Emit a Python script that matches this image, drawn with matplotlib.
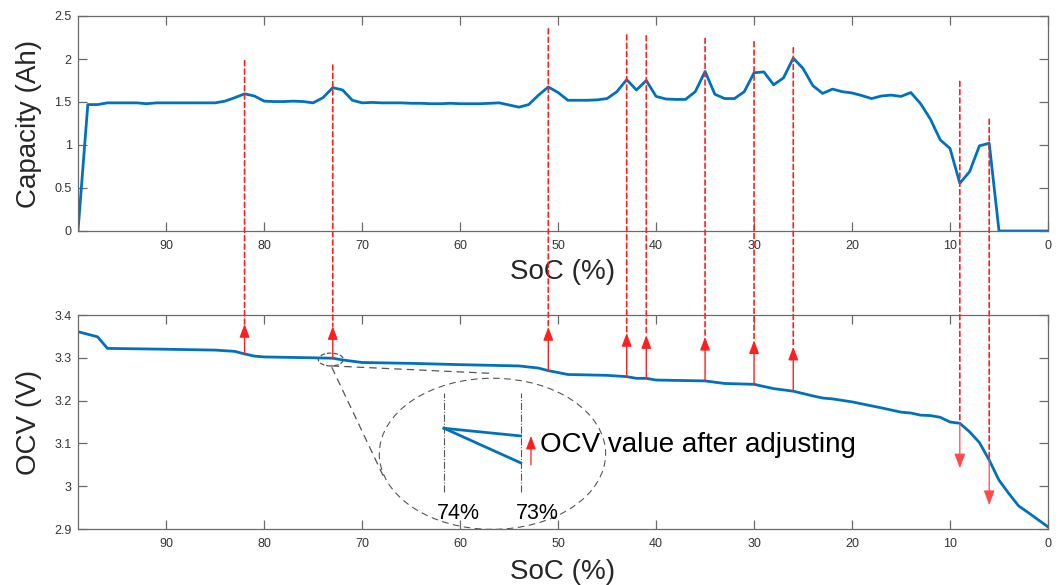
import numpy as np
import matplotlib
matplotlib.use("Agg")
import matplotlib.pyplot as plt
from matplotlib.patches import Ellipse, ConnectionPatch
from matplotlib.ticker import FuncFormatter

plt.rcParams['font.family'] = ['Liberation Sans', 'DejaVu Sans']

# capacity per SoC step, SoC 99 -> 0
cap_soc = np.arange(99, -1, -1)
capacity = [
    0.0, 1.47, 1.47, 1.49, 1.49, 1.49, 1.49, 1.48, 1.49, 1.49,      # 99-90
    1.49, 1.49, 1.49, 1.49, 1.49, 1.51, 1.55, 1.595, 1.57, 1.51,    # 89-80
    1.505, 1.505, 1.51, 1.505, 1.49, 1.55, 1.667, 1.64, 1.52, 1.49, # 79-70
    1.495, 1.49, 1.49, 1.49, 1.485, 1.485, 1.48, 1.48, 1.485, 1.48, # 69-60
    1.48, 1.48, 1.485, 1.49, 1.465, 1.44, 1.47, 1.58, 1.675, 1.61,  # 59-50
    1.52, 1.52, 1.52, 1.525, 1.54, 1.62, 1.76, 1.64, 1.75, 1.565,   # 49-40
    1.535, 1.53, 1.53, 1.62, 1.855, 1.59, 1.54, 1.54, 1.62, 1.84,   # 39-30
    1.85, 1.70, 1.78, 2.01, 1.89, 1.69, 1.60, 1.65, 1.62, 1.605,    # 29-20
    1.575, 1.54, 1.57, 1.58, 1.565, 1.61, 1.48, 1.30, 1.06, 0.96,   # 19-10
    0.555, 0.69, 0.99, 1.02, 0.0, 0.0, 0.0, 0.0, 0.0, 0.0,          # 9-0
]

# OCV curve
ocv_soc = [99, 97, 96, 90, 85, 83, 82, 81, 80, 75, 73, 72, 70, 65, 60, 56, 54,
           52, 51, 49, 45, 43, 42, 41, 40, 35, 33, 30, 28, 26, 24, 23, 22, 20,
           17, 15, 14, 13, 12, 11, 10, 9, 8, 7, 6, 5, 4, 3, 2, 0]
ocv = [3.361, 3.349, 3.322, 3.320, 3.318, 3.315, 3.309, 3.304, 3.302, 3.300,
       3.299, 3.295, 3.289, 3.287, 3.284, 3.282, 3.281, 3.276, 3.270, 3.261,
       3.259, 3.256, 3.252, 3.252, 3.248, 3.246, 3.240, 3.238, 3.228, 3.222,
       3.211, 3.206, 3.204, 3.197, 3.183, 3.173, 3.171, 3.166, 3.165, 3.161,
       3.150, 3.147, 3.127, 3.102, 3.061, 3.014, 2.983, 2.954, 2.938, 2.905]

# peaks -> OCV adjustments
up_soc = [82, 73, 51, 43, 41, 35, 30, 26]
up_tip = [3.379, 3.374, 3.372, 3.358, 3.353, 3.349, 3.341, 3.326]
up_top = [1.98, 1.93, 2.35, 2.28, 2.27, 2.24, 2.20, 2.13]
down_soc = [9, 6]
down_tip = [3.042, 2.956]
down_top = [1.74, 1.30]

# zoomed detail (74% -> 73%)
zoom_soc = [74, 73]
zoom_after = [3.3000, 3.2996]
zoom_before = [3.3000, 3.2982]

blue = '#0072BD'
red = '#ff1f1f'
grey = '#555555'

fig = plt.figure(figsize=(10.62, 5.85), dpi=100)
ax1 = fig.add_axes([78/1062, 1-231/585, 970/1062, 215/585])
ax2 = fig.add_axes([78/1062, 1-529/585, 970/1062, 214/585])

def style(ax):
    for sp in ax.spines.values():
        sp.set_color('#6a6a6a')
        sp.set_linewidth(0.9)
    ax.tick_params(direction='in', top=True, right=True, length=6.5, width=0.9,
                   color='#6a6a6a', labelsize=9, labelcolor='#333333')
    ax.tick_params(axis='x', pad=6.5)
    ax.tick_params(axis='y', pad=4.5)
    ax.set_xlim(99, 0)
    ax.set_xticks([90, 80, 70, 60, 50, 40, 30, 20, 10, 0])
    ax.yaxis.set_major_formatter(FuncFormatter(lambda v, p: '%g' % round(v, 2)))

ax1.plot(cap_soc, capacity, color=blue, lw=2.0)
style(ax1)
ax1.set_ylim(0, 2.5)
ax1.set_yticks([0, 0.5, 1, 1.5, 2, 2.5])
ax1.set_ylabel('Capacity (Ah)', fontsize=20, color='#262626')
ax1.set_xlabel('SoC (%)', fontsize=20, color='#262626')
ax1.yaxis.set_label_coords(-0.037, 0.5)
ax1.xaxis.set_label_coords(0.5, -0.13)

ax2.plot(ocv_soc, ocv, color=blue, lw=2.0)
style(ax2)
ax2.set_ylim(2.9, 3.4)
ax2.set_yticks([2.9, 3.0, 3.1, 3.2, 3.3, 3.4])
ax2.set_ylabel('OCV (V)', fontsize=20, color='#262626')
ax2.set_xlabel('SoC (%)', fontsize=20, color='#262626')
ax2.yaxis.set_label_coords(-0.037, 0.5)
ax2.xaxis.set_label_coords(0.5, -0.14)

def ocv_at(s):
    return np.interp(s, ocv_soc[::-1], ocv[::-1])

head = '-|>,head_length=0.8,head_width=0.3'
for s, tip, top in zip(up_soc, up_tip, up_top):
    con = ConnectionPatch(xyA=(s, top), coordsA=ax1.transData,
                          xyB=(s, tip), coordsB=ax2.transData,
                          color=red, lw=1.2, linestyle=(0, (3, 2)))
    fig.add_artist(con)
    ax2.annotate('', xy=(s, tip), xytext=(s, ocv_at(s)),
                 arrowprops=dict(arrowstyle=head, color=red, lw=1.0,
                                 shrinkA=0, shrinkB=0, mutation_scale=10))

for s, tip, top in zip(down_soc, down_tip, down_top):
    con = ConnectionPatch(xyA=(s, top), coordsA=ax1.transData,
                          xyB=(s, ocv_at(s)), coordsB=ax2.transData,
                          color=red, lw=1.2, linestyle=(0, (3, 2)))
    fig.add_artist(con)
    ax2.annotate('', xy=(s, tip), xytext=(s, ocv_at(s)),
                 arrowprops=dict(arrowstyle=head, color='#ff4a4a', lw=0.9,
                                 shrinkA=0, shrinkB=0, mutation_scale=11))

# magnifier
ax2.add_patch(Ellipse((73.2, 3.296), 2.55, 0.030, fill=False, ls='--',
                      ec=grey, lw=0.9))
ax2.add_patch(Ellipse((56.7, 3.0757), 23.1, 0.353, fill=False,
                      ls=(0, (6, 4)), ec=grey, lw=0.8, clip_on=False))
ax2.plot([73.1, 56.94], [3.281, 3.2638], ls=(0, (6, 4)), color=grey, lw=0.9)
ax2.plot([73.1, 67.65], [3.278, 3.0145], ls=(0, (6, 4)), color=grey, lw=0.9)

axz = fig.add_axes([444/1062, 1-491.7/585, 76.7/1062, 99/585])
axz.set_axis_off()
axz.set_xlim(74, 73)
axz.set_ylim(3.2967, 3.30185)
for s in zoom_soc:
    axz.axvline(s, color=grey, lw=0.8, ls='-.', clip_on=False)
axz.plot(zoom_soc, zoom_after, color=blue, lw=2.0, clip_on=False)
axz.plot(zoom_soc, zoom_before, color=blue, lw=2.0, clip_on=False)
axz.annotate('', xy=(72.866, 3.2996), xytext=(72.866, 3.29809),
             annotation_clip=False,
             arrowprops=dict(arrowstyle='-|>,head_length=0.8,head_width=0.3',
                             color=red, lw=0.9, shrinkA=0, shrinkB=0,
                             mutation_scale=10))
trans = axz.get_xaxis_transform()
axz.text(72.75, 0.404, 'OCV value after adjusting', transform=trans,
         fontsize=20, ha='left', va='baseline', color='black')
axz.text(74.095, -0.28, '74%', transform=trans, fontsize=15.5,
         ha='left', va='baseline', color='black')
axz.text(73.06, -0.28, '73%', transform=trans, fontsize=15.5,
         ha='left', va='baseline', color='black')

fig.savefig('out.png', dpi=100)
